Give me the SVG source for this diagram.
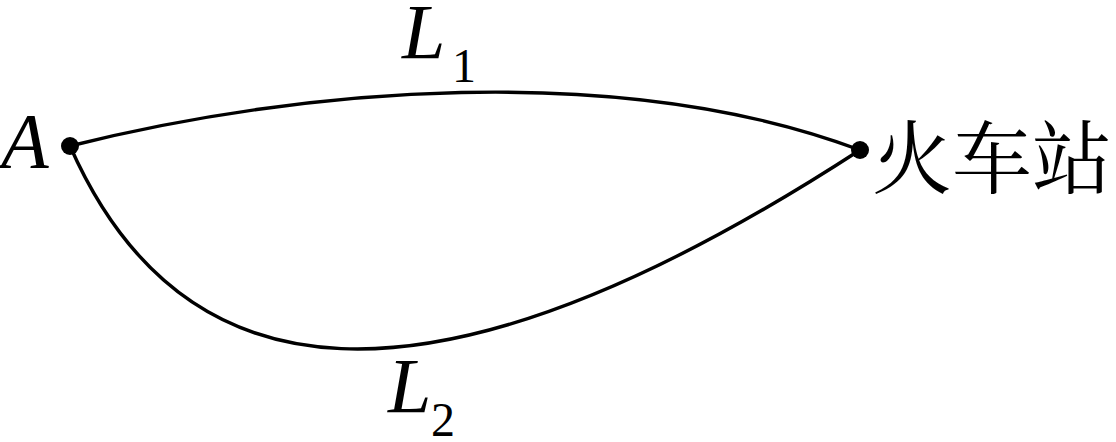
<svg xmlns="http://www.w3.org/2000/svg" width="1116" height="442" viewBox="0 0 1116 442">
<style>
.route{fill:none;stroke:#000;stroke-width:3.4;stroke-linecap:round}
.dot{fill:#000}
.lbl{font-family:"Liberation Serif","Times New Roman",serif;font-style:italic;font-size:78px;fill:#000}
.sub{font-family:"Liberation Serif","Times New Roman",serif;font-size:48px;fill:#000}
.cjk{font-family:"Noto Serif CJK SC","Noto Sans CJK SC",serif;font-size:80px;fill:#000}
</style>
<rect width="1116" height="442" fill="#fff"/>
<g id="connectors">
<path id="L1" class="route" d="M70,146 C300,88 620,60 860,150"/>
<path id="L2" class="route" d="M70,146 C180,395 420,436 860,150"/>
</g>
<g id="nodeA">
<circle class="dot" cx="70" cy="146" r="9"/>
<text class="lbl" x="1" y="167">A</text>
</g>
<g id="station">
<circle class="dot" cx="860" cy="150" r="9"/>
<text class="cjk" x="872" y="187">火车站</text>
</g>
<g id="labelL1">
<text class="lbl" x="402" y="58">L</text>
<text class="sub" x="452" y="82">1</text>
</g>
<g id="labelL2">
<text class="lbl" x="388" y="412">L</text>
<text class="sub" x="431" y="436">2</text>
</g>
</svg>
